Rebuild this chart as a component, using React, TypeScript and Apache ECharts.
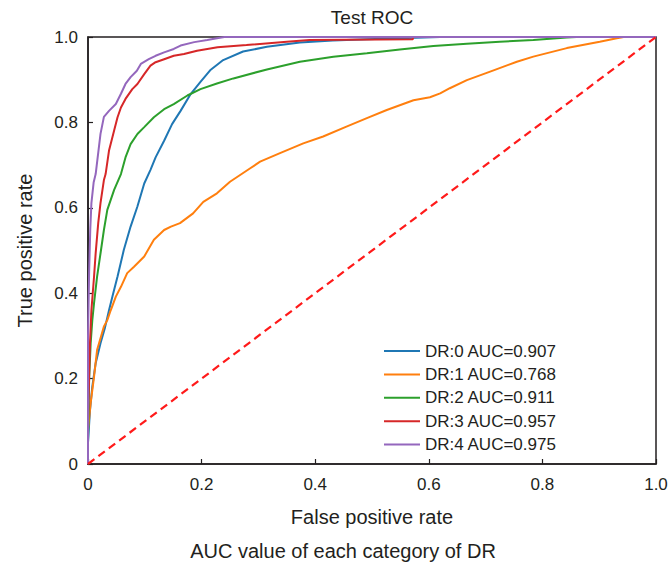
import React, { useEffect, useRef } from "react";
import * as echarts from "echarts";

const seriesNames = [
  "DR:0 AUC=0.907",
  "DR:1 AUC=0.768",
  "DR:2 AUC=0.911",
  "DR:3 AUC=0.957",
  "DR:4 AUC=0.975",
];
const seriesColors = ["#1f77b4", "#ff7f0e", "#2ca02c", "#d62728", "#9467bd"];

const xTicks = [0, 0.2, 0.4, 0.6, 0.8, 1.0];

const dr0: [number, number][] = [
  [0, 0], [0, 0.05], [0.0035, 0.126], [0.0076, 0.181], [0.0135, 0.236], [0.022, 0.283],
  [0.03, 0.32], [0.037, 0.36], [0.043, 0.392], [0.052, 0.439], [0.063, 0.501], [0.075, 0.556],
  [0.087, 0.603], [0.099, 0.657], [0.11, 0.689], [0.119, 0.718], [0.134, 0.757], [0.148, 0.796],
  [0.163, 0.827], [0.181, 0.867], [0.198, 0.895], [0.215, 0.922], [0.238, 0.946], [0.273, 0.966],
  [0.315, 0.977], [0.373, 0.987], [0.431, 0.992], [0.491, 0.995], [0.549, 0.997], [0.62, 1.0], [1, 1],
];
const dr1: [number, number][] = [
  [0, 0], [0, 0.08], [0.0047, 0.143], [0.0106, 0.204], [0.016, 0.267], [0.028, 0.322],
  [0.034, 0.337], [0.04, 0.36], [0.049, 0.392], [0.058, 0.415], [0.069, 0.447], [0.081, 0.462],
  [0.099, 0.486], [0.116, 0.525], [0.134, 0.548], [0.146, 0.556], [0.162, 0.564], [0.185, 0.587],
  [0.203, 0.614], [0.227, 0.634], [0.25, 0.661], [0.285, 0.692], [0.303, 0.708], [0.338, 0.728],
  [0.379, 0.751], [0.414, 0.767], [0.455, 0.79], [0.491, 0.81], [0.526, 0.829], [0.573, 0.852],
  [0.602, 0.859], [0.62, 0.868], [0.637, 0.88], [0.667, 0.899], [0.708, 0.919], [0.755, 0.942],
  [0.784, 0.954], [0.843, 0.974], [0.901, 0.989], [0.931, 0.997], [0.943, 1.0], [1, 1],
];
const dr2: [number, number][] = [
  [0, 0], [0, 0.05], [0.002, 0.2], [0.0047, 0.283], [0.0076, 0.337], [0.0106, 0.376],
  [0.016, 0.439], [0.022, 0.493], [0.028, 0.548], [0.034, 0.595], [0.046, 0.642], [0.058, 0.679],
  [0.066, 0.718], [0.075, 0.749], [0.087, 0.773], [0.099, 0.789], [0.116, 0.812], [0.134, 0.831],
  [0.151, 0.843], [0.175, 0.863], [0.198, 0.878], [0.227, 0.891], [0.256, 0.903], [0.315, 0.924],
  [0.373, 0.942], [0.432, 0.954], [0.491, 0.962], [0.549, 0.971], [0.608, 0.979], [0.667, 0.984],
  [0.725, 0.989], [0.784, 0.993], [0.843, 0.999], [0.86, 1.0], [1, 1],
];
const dr3: [number, number][] = [
  [0, 0], [0, 0.1], [0.002, 0.204], [0.0035, 0.283], [0.006, 0.36], [0.0106, 0.438],
  [0.0135, 0.494], [0.018, 0.564], [0.022, 0.611], [0.028, 0.665], [0.031, 0.679], [0.037, 0.734],
  [0.046, 0.781], [0.052, 0.812], [0.058, 0.835], [0.066, 0.855], [0.078, 0.878], [0.087, 0.89],
  [0.099, 0.913], [0.11, 0.933], [0.119, 0.941], [0.134, 0.948], [0.151, 0.956], [0.169, 0.96],
  [0.192, 0.968], [0.228, 0.976], [0.279, 0.981], [0.35, 0.989], [0.39, 0.993], [0.572, 0.995],
  [0.572, 1.0], [1, 1],
];
const dr4: [number, number][] = [
  [0, 0], [0, 0.3], [0.002, 0.45], [0.004, 0.55], [0.006, 0.611], [0.01, 0.66], [0.0135, 0.679],
  [0.022, 0.773], [0.028, 0.813], [0.037, 0.827], [0.049, 0.843], [0.058, 0.867], [0.066, 0.89],
  [0.075, 0.906], [0.086, 0.921], [0.093, 0.937], [0.107, 0.948], [0.119, 0.956], [0.134, 0.964],
  [0.151, 0.972], [0.163, 0.98], [0.187, 0.988], [0.21, 0.993], [0.227, 0.997], [0.24, 1.0], [1, 1],
];
const diagonal: [number, number][] = [[0, 0], [1, 1]];

const curves = [dr0, dr1, dr2, dr3, dr4];

const FONT = "'Liberation Sans', Arial, Helvetica, sans-serif";
const INK = "#231f20";

export default function App() {
  const ref = useRef<HTMLDivElement>(null);
  useEffect(() => {
    document.body.style.margin = "0";
    const chart = echarts.init(ref.current!, null, { renderer: "svg" });
    const lineSeries = curves.map((d, i) => ({
      name: seriesNames[i],
      type: "line",
      data: d,
      showSymbol: false,
      symbol: "none",
      lineStyle: { color: seriesColors[i], width: 2 },
      itemStyle: { color: seriesColors[i] },
      z: 3 + i,
    }));
    chart.setOption({
      animation: false,
      textStyle: { fontFamily: FONT, color: INK },
      grid: {
        left: 88,
        right: 16,
        top: 37,
        bottom: 101,
        show: true,
        borderColor: INK,
        borderWidth: 1.5,
        backgroundColor: "transparent",
      },
      legend: {
        orient: "vertical",
        left: 384,
        top: 342.5,
        padding: 0,
        itemWidth: 36,
        itemHeight: 2,
        itemGap: 6.4,
        icon: "rect",
        data: seriesNames,
        textStyle: { fontSize: 17, color: INK, fontFamily: FONT, lineHeight: 17 },
      },
      xAxis: {
        type: "value",
        min: 0,
        max: 1,
        interval: 0.2,
        name: "False positive rate",
        nameLocation: "middle",
        nameGap: 43,
        nameTextStyle: { fontSize: 20, color: INK, fontFamily: FONT },
        axisLine: { show: true, lineStyle: { color: INK, width: 1.5 } },
        axisTick: { show: true, inside: true, length: 5, lineStyle: { color: INK, width: 1.2 } },
        axisLabel: {
          fontSize: 17,
          color: INK,
          margin: 12,
          fontFamily: FONT,
          formatter: (v: number) => (xTicks.includes(v) ? (v === 0 ? "0" : v.toFixed(1)) : ""),
        },
        splitLine: { show: false },
      },
      yAxis: {
        type: "value",
        min: 0,
        max: 1,
        interval: 0.2,
        name: "True positive rate",
        nameLocation: "middle",
        nameGap: 53,
        nameTextStyle: { fontSize: 20, color: INK, fontFamily: FONT },
        axisLine: { show: true, lineStyle: { color: INK, width: 1.5 } },
        axisTick: { show: true, inside: true, length: 5, lineStyle: { color: INK, width: 1.2 } },
        axisLabel: {
          fontSize: 17,
          color: INK,
          margin: 10,
          fontFamily: FONT,
          formatter: (v: number) => (v === 0 ? "0" : v.toFixed(1)),
        },
        splitLine: { show: false },
      },
      graphic: [
        {
          type: "text",
          x: 372,
          y: 17,
          style: {
            text: "Test ROC",
            fontSize: 19,
            fontFamily: FONT,
            fill: INK,
            textAlign: "center",
            textVerticalAlign: "middle",
          },
        },
        {
          type: "text",
          x: 343,
          y: 551,
          style: {
            text: "AUC value of each category of DR",
            fontSize: 20,
            fontFamily: FONT,
            fill: INK,
            textAlign: "center",
            textVerticalAlign: "middle",
          },
        },
      ],
      series: [
        ...lineSeries,
        {
          name: "chance",
          type: "line",
          data: diagonal,
          showSymbol: false,
          symbol: "none",
          lineStyle: { color: "#ff1a1a", width: 2.2, type: [8, 5] },
          z: 10,
        },
      ],
    });
    return () => chart.dispose();
  }, []);
  return <div ref={ref} style={{ width: 672, height: 565 }} />;
}
